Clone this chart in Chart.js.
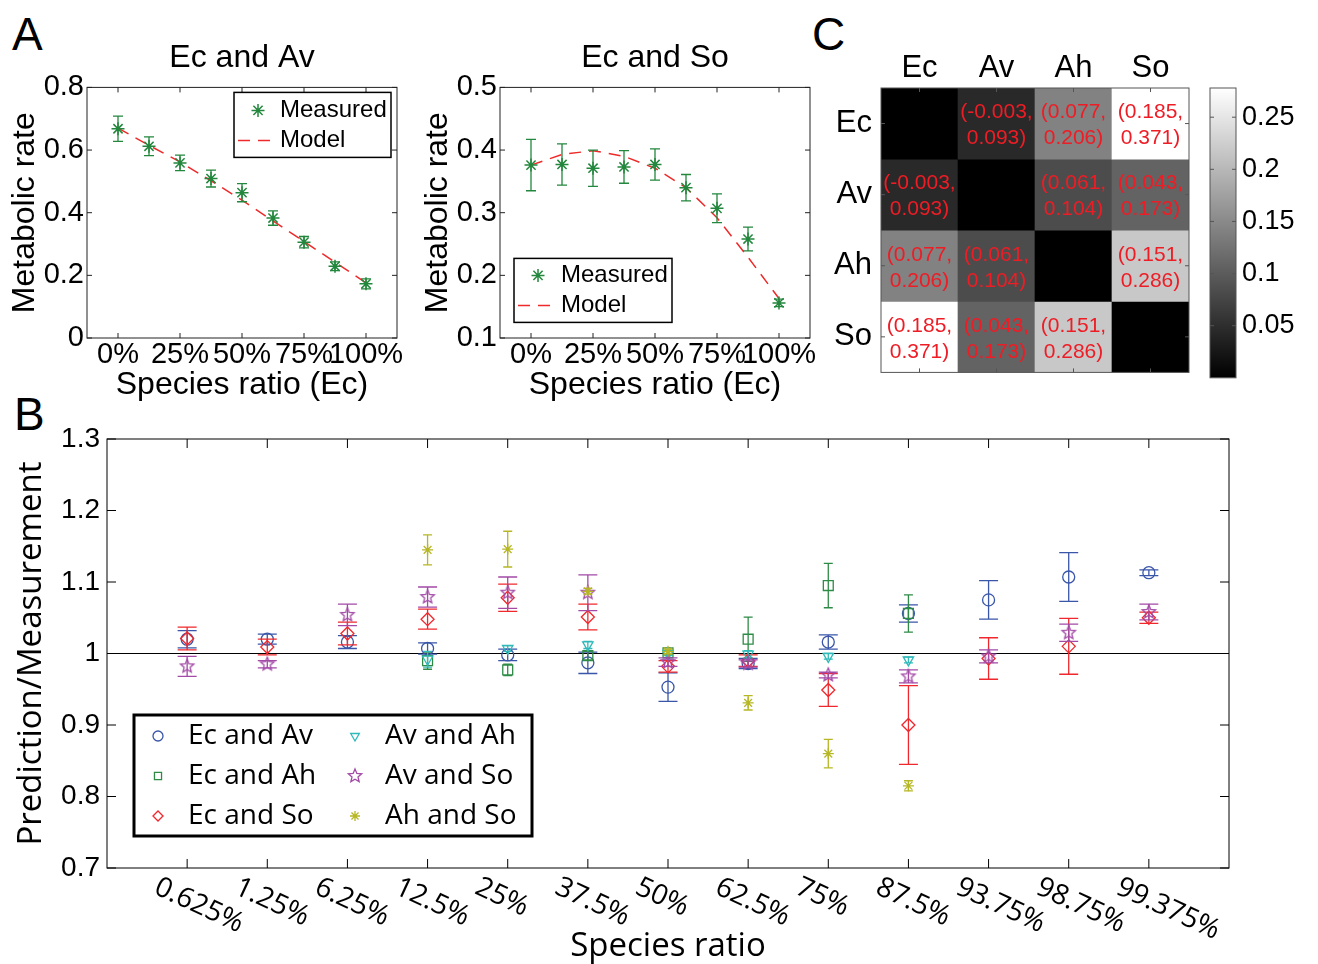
<!DOCTYPE html>
<html>
<head>
<meta charset="utf-8">
<script src="https://cdn.jsdelivr.net/npm/chart.js@4.4.1/dist/chart.umd.min.js"></script>
<style>
body { margin: 0; background: #fff; width: 1318px; height: 964px; position: relative; overflow: hidden; font-family: "Liberation Sans", Arial, sans-serif; }
.panel { position: absolute; }
.tag { position: absolute; font-size: 46px; line-height: 1; color: #000; }
</style>
</head>
<body>
<div class="tag" style="left:12px;top:11px">A</div>
<div class="tag" style="left:14px;top:391px">B</div>
<div class="tag" style="left:812px;top:11px">C</div>
<div class="panel" style="left:0;top:0;width:420px;height:410px"><canvas id="avChart"></canvas></div>
<div class="panel" style="left:413px;top:0;width:420px;height:410px"><canvas id="soChart"></canvas></div>
<div class="panel" style="left:820px;top:0;width:380px;height:400px"><canvas id="heatChart"></canvas></div>
<div class="panel" style="left:1195px;top:0;width:123px;height:400px"><canvas id="scaleChart"></canvas></div>
<div class="panel" style="left:0;top:400px;width:1318px;height:564px"><canvas id="ratioChart"></canvas></div>
<script>
// panel A: two-species mixtures, share of Ec in %
const ecShare = [0, 12.5, 25, 37.5, 50, 62.5, 75, 87.5, 100];
const shareTicks = [0, 25, 50, 75, 100];
const avMeasured = [0.668, 0.612, 0.559, 0.509, 0.464, 0.383, 0.306, 0.229, 0.173];
const avError = [0.040, 0.030, 0.025, 0.027, 0.029, 0.023, 0.018, 0.014, 0.016];
const avModel = [0.670, 0.615, 0.562, 0.502, 0.440, 0.374, 0.308, 0.242, 0.176];
const soMeasured = [0.376, 0.377, 0.371, 0.373, 0.377, 0.340, 0.307, 0.258, 0.156];
const soError = [0.041, 0.033, 0.029, 0.026, 0.025, 0.021, 0.023, 0.019, 0.006];
const soModel = [0.376, 0.393, 0.399, 0.390, 0.371, 0.340, 0.292, 0.229, 0.163];

// panel C: interaction intervals
const species = ["Ec", "Av", "Ah", "So"];
const ciLower = [
    [null, -0.003, 0.077, 0.185],
    [-0.003, null, 0.061, 0.043],
    [0.077, 0.061, null, 0.151],
    [0.185, 0.043, 0.151, null]
];
const ciUpper = [
    [null, 0.093, 0.206, 0.371],
    [0.093, null, 0.104, 0.173],
    [0.206, 0.104, null, 0.286],
    [0.371, 0.173, 0.286, null]
];
const colorTicks = [0.05, 0.1, 0.15, 0.2, 0.25];

// panel B: prediction / measurement
const ratioLabels = ["0.625%", "1.25%", "6.25%", "12.5%", "25%", "37.5%", "50%", "62.5%", "75%", "87.5%", "93.75%", "98.75%", "99.375%"];
const ecAv = [1.020, 1.020, 1.016, 1.007, 0.998, 0.987, 0.953, 0.986, 1.016, 1.056, 1.075, 1.107, 1.113];
const ecAvErr = [0.012, 0.007, 0.009, 0.008, 0.008, 0.015, 0.020, 0.007, 0.010, 0.012, 0.027, 0.034, 0.004];
const ecAh = [null, null, null, 0.990, 0.977, 0.997, 1.001, 1.020, 1.095, 1.056, null, null, null];
const ecAhErr = [null, null, null, 0.012, 0.008, 0.006, 0.003, 0.031, 0.031, 0.026, null, null, null];
const ecSo = [1.021, 1.009, 1.028, 1.048, 1.078, 1.051, 0.982, 0.990, 0.949, 0.900, 0.993, 1.010, 1.050];
const ecSoErr = [0.016, 0.011, 0.016, 0.014, 0.019, 0.018, 0.008, 0.008, 0.023, 0.055, 0.029, 0.039, 0.008];
const avAh = [null, null, null, 0.992, 1.007, 1.012, 1.000, 0.999, 0.996, 0.991, null, null, null];
const avAhErr = [null, null, null, 0.011, 0.004, 0.005, 0.003, 0.005, 0.004, 0.004, null, null, null];
const avSo = [0.982, 0.985, 1.054, 1.079, 1.085, 1.085, 0.988, 0.986, 0.970, 0.968, 0.996, 1.029, 1.058];
const avSoErr = [0.014, 0.005, 0.015, 0.014, 0.022, 0.025, 0.006, 0.005, 0.004, 0.009, 0.009, 0.012, 0.011];
const ahSo = [null, null, null, 1.145, 1.146, 1.087, 1.003, 0.931, 0.860, 0.815, null, null, null];
const ahSoErr = [null, null, null, 0.021, 0.025, 0.004, 0.003, 0.010, 0.020, 0.007, null, null, null];
const refLevel = 1;

Chart.defaults.font.family = "'Liberation Sans', Arial, sans-serif";
Chart.defaults.color = "#000";

const GREEN = "#23873d", RED = "#ee2a2a";

function starImage(color, r) {
    const c = document.createElement("canvas");
    const s = Math.ceil(r * 2 + 4);
    c.width = c.height = s;
    const g = c.getContext("2d");
    g.strokeStyle = color;
    g.lineWidth = 1.3;
    g.beginPath();
    for (let k = 0; k < 10; k++) {
        const ang = -Math.PI / 2 + k * Math.PI / 5;
        const rr = k % 2 ? r * 0.45 : r;
        g.lineTo(s / 2 + rr * Math.cos(ang), s / 2 + rr * Math.sin(ang));
    }
    g.closePath();
    g.stroke();
    return c;
}

// box round the plot with inward ticks, like matlab axes
const boxPlugin = {
    id: "box",
    afterDraw(chart, args, o) {
        const { ctx, chartArea: a } = chart;
        ctx.save();
        ctx.strokeStyle = o.color || "#222";
        ctx.lineWidth = 1;
        ctx.strokeRect(a.left, a.top, a.right - a.left, a.bottom - a.top);
        const len = o.tick || 0;
        if (len) {
            const xs = chart.scales.x, ys = chart.scales.y;
            ctx.beginPath();
            if (xs && xs.options.display !== false) {
                xs.ticks.forEach((t, i) => {
                    const px = xs.getPixelForTick(i);
                    ctx.moveTo(px, a.bottom); ctx.lineTo(px, a.bottom - len);
                    ctx.moveTo(px, a.top); ctx.lineTo(px, a.top + len);
                });
            }
            ys.ticks.forEach((t, i) => {
                const py = ys.getPixelForTick(i);
                ctx.moveTo(a.left, py); ctx.lineTo(a.left + len, py);
                ctx.moveTo(a.right, py); ctx.lineTo(a.right - len, py);
            });
            ctx.stroke();
        }
        ctx.restore();
    }
};

const errorBarPlugin = {
    id: "errorBars",
    afterDatasetDraw(chart, args) {
        const ds = chart.data.datasets[args.index];
        if (!ds.errors) return;
        const ctx = chart.ctx, ys = chart.scales.y;
        const w = (ds.capWidth || 10) / 2;
        ctx.save();
        ctx.strokeStyle = ds.borderColor;
        ctx.lineWidth = 1.3;
        ctx.beginPath();
        args.meta.data.forEach((pt, i) => {
            const v = ds.data[i].y, e = ds.errors[i];
            if (v == null || e == null) return;
            const top = ys.getPixelForValue(v + e), bot = ys.getPixelForValue(v - e);
            ctx.moveTo(pt.x, top); ctx.lineTo(pt.x, bot);
            ctx.moveTo(pt.x - w, top); ctx.lineTo(pt.x + w, top);
            ctx.moveTo(pt.x - w, bot); ctx.lineTo(pt.x + w, bot);
        });
        ctx.stroke();
        ctx.restore();
    }
};

const keyBoxPlugin = {
    id: "keyBox",
    afterDraw(chart, args, o) {
        const { ctx, chartArea: a } = chart;
        const x0 = a.left + o.left, y0 = a.top + o.top;
        ctx.save();
        ctx.fillStyle = "#fff";
        ctx.fillRect(x0, y0, o.width, o.height);
        ctx.lineWidth = o.lineWidth;
        ctx.strokeStyle = "#000";
        ctx.strokeRect(x0, y0, o.width, o.height);
        ctx.font = o.font;
        ctx.textBaseline = "middle";
        ctx.textAlign = "left";
        chart.data.datasets.filter(d => !d.noKey).forEach((d, i) => {
            const cx = x0 + Math.floor(i / o.rows) * (o.colWidth || 0);
            const cy = y0 + o.firstRow + (i % o.rows) * o.rowHeight;
            ctx.strokeStyle = d.borderColor;
            ctx.lineWidth = d.borderWidth || 1.3;
            if (d.type === "line") {
                ctx.setLineDash(d.borderDash || []);
                ctx.beginPath();
                ctx.moveTo(cx + o.lineFrom, cy);
                ctx.lineTo(cx + o.lineTo, cy);
                ctx.stroke();
                ctx.setLineDash([]);
            } else {
                ctx.fillStyle = "rgba(0,0,0,0)";
                Chart.helpers.drawPoint(ctx, {
                    pointStyle: d.pointStyle, rotation: d.pointRotation || 0,
                    radius: o.markerRadius, borderWidth: d.borderWidth || 1.3
                }, cx + o.markerX, cy);
            }
            ctx.fillStyle = "#000";
            ctx.fillText(d.label, cx + o.textX, cy);
        });
        ctx.restore();
    }
};

function pts(xs, ys) {
    return xs.map((x, i) => ({ x: x, y: ys[i] }));
}

function mixtureChart(id, title, measured, err, model, yMin, yMax, key) {
    return new Chart(document.getElementById(id), {
        type: "scatter",
        data: {
            datasets: [{
                label: "Measured",
                data: pts(ecShare, measured),
                errors: err,
                capWidth: 10,
                pointStyle: "star",
                pointRadius: 6.5,
                borderColor: GREEN,
                backgroundColor: GREEN,
                borderWidth: 1.5,
                order: 1
            }, {
                type: "line",
                label: "Model",
                data: pts(ecShare, model),
                borderColor: RED,
                borderWidth: 1.5,
                borderDash: [12, 8],
                pointRadius: 0,
                fill: false,
                order: 2
            }]
        },
        options: {
            responsive: true, maintainAspectRatio: false, animation: false,
            layout: { padding: { right: 23 } },
            scales: {
                x: {
                    type: "linear", min: -12.5, max: 112.5,
                    afterBuildTicks: s => { s.ticks = shareTicks.map(v => ({ value: v })); },
                    afterFit: s => { s.height = 72; },
                    ticks: { autoSkip: false, maxRotation: 0, padding: 0, font: { size: 29 }, callback: v => v + "%" },
                    grid: { display: false, drawTicks: false }, border: { display: false },
                    title: { display: true, text: "Species ratio (Ec)", font: { size: 32 }, padding: { top: 0, bottom: 6 } }
                },
                y: {
                    min: yMin, max: yMax,
                    afterFit: s => { s.width = 87; },
                    ticks: { stepSize: 0.1 * (yMax - yMin > 0.5 ? 2 : 1), padding: 3, font: { size: 29 }, callback: v => String(+v.toFixed(1)) },
                    grid: { display: false, drawTicks: false }, border: { display: false },
                    title: { display: true, text: "Metabolic rate", font: { size: 32 }, padding: { top: 6 } }
                }
            },
            plugins: {
                legend: { display: false }, tooltip: { enabled: false },
                title: { display: true, text: title, fullSize: false, font: { size: 32, weight: "normal" }, padding: { top: 39, bottom: 10 } },
                box: { tick: 5 },
                keyBox: key
            }
        },
        plugins: [boxPlugin, errorBarPlugin, keyBoxPlugin]
    });
}

mixtureChart("avChart", "Ec and Av", avMeasured, avError, avModel, 0, 0.8,
    { left: 147, top: 5, width: 157, height: 65, rows: 2, firstRow: 18, rowHeight: 30, markerX: 24, markerRadius: 6.5, lineFrom: 4, lineTo: 41, textX: 46, font: "24px 'Liberation Sans'", lineWidth: 1.5 });
mixtureChart("soChart", "Ec and So", soMeasured, soError, soModel, 0.1, 0.5,
    { left: 14, top: 171, width: 158, height: 64, rows: 2, firstRow: 17, rowHeight: 30, markerX: 24, markerRadius: 6.5, lineFrom: 4, lineTo: 41, textX: 47, font: "24px 'Liberation Sans'", lineWidth: 1.5 });

// panel C heatmap, grey level from the middle of each interval
const mids = ciLower.map((row, r) => row.map((lo, c) => lo == null ? 0 : (lo + ciUpper[r][c]) / 2));
const colorMax = Math.max(...mids.flat());
function grey(v) {
    const g = Math.round(255 * Math.max(0, v) / colorMax);
    return "rgb(" + g + "," + g + "," + g + ")";
}

const cellTextPlugin = {
    id: "cellText",
    afterDatasetsDraw(chart, args, o) {
        const ctx = chart.ctx;
        ctx.save();
        ctx.font = o.font;
        ctx.fillStyle = o.color;
        ctx.textAlign = "center";
        ctx.textBaseline = "middle";
        chart.data.datasets.forEach((ds, r) => {
            chart.getDatasetMeta(r).data.forEach((bar, c) => {
                const lo = ds.lower[c], hi = ds.upper[c];
                if (lo == null) return;
                const cy = (bar.y + bar.base) / 2;
                ctx.fillText("(" + lo.toFixed(3) + ",", bar.x, cy - o.up);
                ctx.fillText(hi.toFixed(3) + ")", bar.x, cy + o.down);
            });
        });
        ctx.restore();
    }
};

new Chart(document.getElementById("heatChart"), {
    type: "bar",
    data: {
        labels: species,
        datasets: species.map((name, r) => ({
            label: name,
            data: species.map(() => [r, r + 1]),
            backgroundColor: mids[r].map(grey),
            lower: ciLower[r],
            upper: ciUpper[r],
            grouped: false,
            barPercentage: 1,
            categoryPercentage: 1,
            borderWidth: 0
        }))
    },
    options: {
        responsive: true, maintainAspectRatio: false, animation: false,
        layout: { padding: { right: 11, bottom: 21 } },
        scales: {
            x: {
                position: "top",
                afterFit: s => { s.height = 88; },
                ticks: { font: { size: 31 }, padding: 1 },
                grid: { display: false, drawTicks: false }, border: { display: false }
            },
            y: {
                min: 0, max: species.length, reverse: true,
                afterBuildTicks: s => { s.ticks = species.map((_, i) => ({ value: i + 0.5 })); },
                afterFit: s => { s.width = 61; },
                ticks: { font: { size: 31 }, padding: 9, callback: (v, i) => species[i] },
                grid: { display: false, drawTicks: false }, border: { display: false }
            }
        },
        plugins: {
            legend: { display: false }, tooltip: { enabled: false },
            box: { tick: 4, color: "#555" },
            cellText: { font: "21px 'Liberation Sans'", color: "#ee1c25", up: 11, down: 15 }
        }
    },
    plugins: [cellTextPlugin, boxPlugin]
});

new Chart(document.getElementById("scaleChart"), {
    type: "bar",
    data: {
        labels: [""],
        datasets: [{
            data: [[0, colorMax]],
            backgroundColor: ctx => {
                const a = ctx.chart.chartArea;
                if (!a) return "#000";
                const g = ctx.chart.ctx.createLinearGradient(0, a.bottom, 0, a.top);
                g.addColorStop(0, "#000");
                g.addColorStop(1, "#fff");
                return g;
            },
            barPercentage: 1, categoryPercentage: 1, borderWidth: 0
        }]
    },
    options: {
        responsive: true, maintainAspectRatio: false, animation: false,
        layout: { padding: { left: 15, top: 88, bottom: 19 } },
        scales: {
            x: { display: false },
            y: {
                position: "right", min: 0, max: colorMax,
                afterBuildTicks: s => { s.ticks = colorTicks.map(v => ({ value: v })); },
                afterFit: s => { s.width = 82; },
                ticks: { font: { size: 27 }, padding: 6, callback: v => String(v) },
                grid: { display: false, drawTicks: false }, border: { display: false }
            }
        },
        plugins: { legend: { display: false }, tooltip: { enabled: false }, box: { tick: 4, color: "#555" } }
    },
    plugins: [boxPlugin]
});

// panel B
const slantPlugin = {
    id: "slant",
    afterDraw(chart, args, o) {
        const { ctx, chartArea: a } = chart;
        const xs = chart.scales.x;
        ctx.save();
        ctx.font = o.font;
        ctx.fillStyle = "#000";
        ctx.textAlign = "left";
        ctx.textBaseline = "top";
        xs.ticks.forEach((t, i) => {
            ctx.save();
            ctx.translate(xs.getPixelForTick(i) + o.dx, a.bottom + o.dy);
            ctx.rotate(o.angle * Math.PI / 180);
            ctx.fillText(ratioLabels[t.value - 1], 0, 0);
            ctx.restore();
        });
        ctx.restore();
    }
};

const seriesB = [
    { label: "Ec and Av", values: ecAv, err: ecAvErr, color: "#3a56a8", style: "circle", radius: 6, cap: 19 },
    { label: "Ec and Ah", values: ecAh, err: ecAhErr, color: "#2e8b46", style: "rect", radius: 7, cap: 9 },
    { label: "Ec and So", values: ecSo, err: ecSoErr, color: "#f0282d", style: "rectRot", radius: 6.5, cap: 19 },
    { label: "Av and Ah", values: avAh, err: avAhErr, color: "#2fb9b9", style: "triangle", radius: 6, cap: 9, rot: 180 },
    { label: "Av and So", values: avSo, err: avSoErr, color: "#a24aa6", style: starImage("#a24aa6", 7), radius: 7, cap: 19 },
    { label: "Ah and So", values: ahSo, err: ahSoErr, color: "#b7b725", style: "star", radius: 5.5, cap: 9 }
];

new Chart(document.getElementById("ratioChart"), {
    type: "scatter",
    data: {
        datasets: seriesB.map((s, i) => ({
            label: s.label,
            data: s.values.map((v, k) => ({ x: k + 1, y: v })),
            errors: s.err,
            capWidth: s.cap,
            pointStyle: s.style,
            pointRotation: s.rot || 0,
            pointRadius: s.radius,
            borderColor: s.color,
            backgroundColor: "rgba(0,0,0,0)",
            borderWidth: 1.3,
            order: seriesB.length - i
        })).concat([{
            type: "line",
            label: "reference",
            noKey: true,
            data: [{ x: 0, y: refLevel }, { x: ratioLabels.length + 1, y: refLevel }],
            borderColor: "#000",
            borderWidth: 1.2,
            pointRadius: 0,
            order: 50
        }])
    },
    options: {
        responsive: true, maintainAspectRatio: false, animation: false,
        layout: { padding: { top: 39, right: 89 } },
        scales: {
            x: {
                type: "linear", min: 0, max: ratioLabels.length + 1,
                afterBuildTicks: s => { s.ticks = ratioLabels.map((_, i) => ({ value: i + 1 })); },
                afterFit: s => { s.height = 96; },
                ticks: { display: false },
                grid: { display: false, drawTicks: false }, border: { display: false },
                title: { display: true, text: "Species ratio", font: { family: "'Open Sans'", size: 33 }, padding: { top: 0, bottom: -2 } }
            },
            y: {
                min: 0.7, max: 1.3,
                afterFit: s => { s.width = 107; },
                ticks: { stepSize: 0.1, padding: 7, font: { size: 28 }, callback: v => String(+v.toFixed(1)) },
                grid: { display: false, drawTicks: false }, border: { display: false },
                title: { display: true, text: "Prediction/Measurement", font: { family: "'Open Sans'", size: 33 }, padding: { top: 12 } }
            }
        },
        plugins: {
            legend: { display: false }, tooltip: { enabled: false },
            box: { tick: 9, color: "#000" },
            slant: { font: "28px 'Open Sans'", dx: -25, dy: 5, angle: 25 },
            keyBox: { left: 27, top: 276, width: 398, height: 121, rows: 3, colWidth: 197, firstRow: 21, rowHeight: 40, markerX: 24, markerRadius: 5, textX: 54, font: "28px 'Open Sans'", lineWidth: 3 }
        }
    },
    plugins: [boxPlugin, errorBarPlugin, keyBoxPlugin, slantPlugin]
});
</script>
</body>
</html>
